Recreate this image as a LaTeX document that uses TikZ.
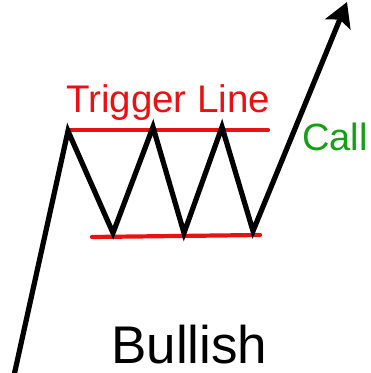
\documentclass[tikz,border=0pt]{standalone}
\usepackage{fontspec}
\setmainfont{Liberation Sans}
\usepackage{xcolor}
\usetikzlibrary{arrows.meta}
\definecolor{trigred}{RGB}{232,18,18}
\definecolor{callgreen}{RGB}{22,158,22}

\begin{document}
\begin{tikzpicture}[x=1pt,y=-1pt,>={Stealth[length=24pt,width=27pt,inset=5pt]},price/.style={line width=5.2pt,line join=miter,draw=black},level/.style={line width=4.2pt,draw=trigred,line cap=round},label/.style={inner sep=0pt,anchor=base west}]
\useasboundingbox (0,0) rectangle (371,373);
\node[label,text=trigred,font=\fontsize{38.5}{40}\selectfont] (trigger) at (66,112) {Trigger Line};
\node[label,text=callgreen,font=\fontsize{38}{40}\selectfont] (call) at (302,150) {Call};
\node[label,text=black,font=\fontsize{53}{56}\selectfont] (bullish) at (111,363) {Bullish};
\coordinate (start) at (13,380);
\coordinate (pk1) at (68,131);
\coordinate (tr1) at (113,233);
\coordinate (pk2) at (153,127);
\coordinate (tr2) at (184,233);
\coordinate (pk3) at (222,127);
\coordinate (tr3) at (253,231);
\coordinate (tip) at (347,2);
\draw[level] (68,130) coordinate (topL) -- (268,130) coordinate (topR);
\draw[level] (92,237) coordinate (botL) -- (260,235) coordinate (botR);
\draw[price,->] (start) -- (pk1) -- (tr1) -- (pk2) -- (tr2) -- (pk3) -- (tr3) -- (tip);
\end{tikzpicture}
\end{document}
